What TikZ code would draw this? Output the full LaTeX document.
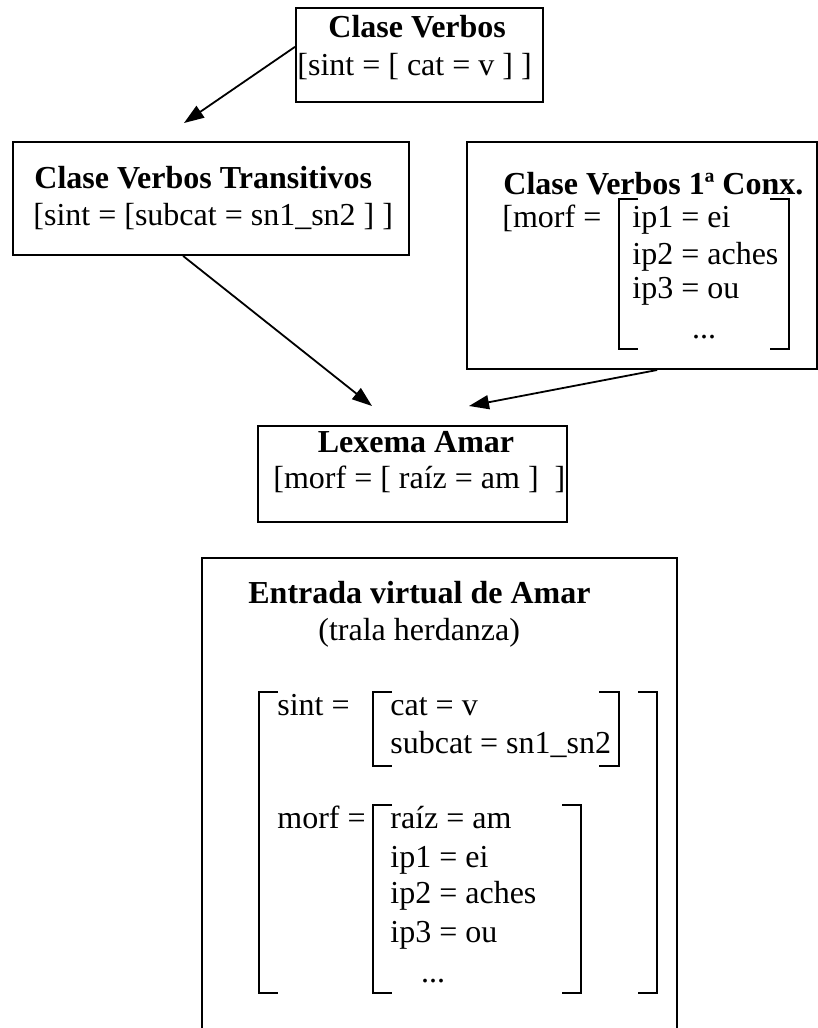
\documentclass[tikz,border=0pt]{standalone}
\usepackage{fontspec}
\setmainfont{Liberation Serif}
\usetikzlibrary{arrows.meta,calc}
\begin{document}
\begin{tikzpicture}[x=0.5pt,y=-0.5pt,
  box/.style={draw,line width=1pt,inner sep=0pt},
  txt/.style={anchor=base west,inner sep=0pt,font=\fontsize{16}{19}\selectfont},
  btxt/.style={txt,font=\fontsize{16}{19}\selectfont\bfseries},
  ctxt/.style={anchor=base,inner sep=0pt,font=\fontsize{16}{19}\selectfont\bfseries},
  brk/.style={line width=1pt},
  arr/.style={line width=0.9pt,-{Triangle[length=10pt,width=7pt]}}]
\useasboundingbox (0,0) rectangle (818,1028);
% boxes
\node[box,minimum width=123.5pt,minimum height=47pt] (b1) at (419.5,55) {};
\node[box,minimum width=198pt,minimum height=56.5pt] (b2) at (211,198.5) {};
\node[box,minimum width=175pt,minimum height=113.5pt] (b3) at (642,255.5) {};
\node[box,minimum width=154.5pt,minimum height=48pt] (b4) at (412.5,473.5) {};
\node[box,minimum width=237.5pt,minimum height=280pt] (b5) at (439.5,838) {};
% box 1
\node[btxt] (t1a) at (328,37) {Clase Verbos};
\node[txt] (t1b) at (297,75) {[sint = [ cat = v ] ]};
% box 2
\node[btxt] (t2a) at (34,188) {Clase Verbos Transitivos};
\node[txt] (t2b) at (33,225) {[sint = [subcat = sn1\_sn2 ] ]};
% box 3
\node[btxt] (t3a) at (503,194) {Clase Verbos 1ª Conx.};
\node[txt] (t3b) at (502,227) {[morf =};
\node[txt] (t3c) at (632,227) {ip1 = ei};
\node[txt] (t3d) at (632,264) {ip2 = aches};
\node[txt] (t3e) at (632,298) {ip3 = ou};
\node[txt,anchor=base] (t3f) at (704,338) {...};
\draw[brk] (638,199) -- (619,199) -- (619,349) -- (638,349);
\draw[brk] (770,199) -- (789,199) -- (789,349) -- (770,349);
% box 4
\node[ctxt] (t4a) at (416,452) {Lexema Amar};
\node[txt] (t4b) at (273,488) {[morf = [ raíz = am ]\ \ ]};
% box 5
\node[btxt] (t5a) at (248,603) {Entrada virtual de Amar};
\node[txt] (t5b) at (318,640) {(trala herdanza)};
\node[txt] (t5c) at (277,715) {sint =};
\node[txt] (t5d) at (390,715) {cat = v};
\node[txt] (t5e) at (390,753) {subcat = sn1\_sn2};
\node[txt] (t5f) at (277,828) {morf =};
\node[txt] (t5g) at (390,828) {raíz = am};
\node[txt] (t5h) at (390,867) {ip1 = ei};
\node[txt] (t5i) at (390,903) {ip2 = aches};
\node[txt] (t5j) at (390,942) {ip3 = ou};
\node[txt,anchor=base] (t5k) at (433,982) {...};
\draw[brk] (278,692) -- (259,692) -- (259,993) -- (278,993);
\draw[brk] (638,692) -- (657,692) -- (657,993) -- (638,993);
\draw[brk] (392,692) -- (373,692) -- (373,766) -- (392,766);
\draw[brk] (599,692) -- (619,692) -- (619,766) -- (599,766);
\draw[brk] (392,805) -- (373,805) -- (373,993) -- (392,993);
\draw[brk] (562,805) -- (581,805) -- (581,993) -- (562,993);
% arrows
\coordinate (e1) at (184,123);
\coordinate (e2) at (372,406);
\coordinate (e3) at (469,406);
\draw[arr] ($(b1.north west)!0.415!(b1.south west)$) -- (e1);
\draw[arr] ($(b2.south west)!0.43!(b2.south east)$) -- (e2);
\draw[arr] ($(b3.south west)!0.543!(b3.south east)$) -- (e3);
\end{tikzpicture}
\end{document}
